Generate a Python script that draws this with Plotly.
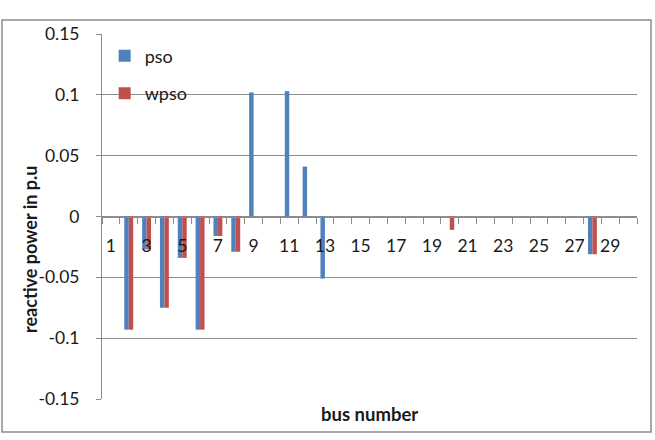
import plotly.graph_objects as go

buses = list(range(1, 31))
pso = [0, -0.093, -0.027, -0.075, -0.034, -0.093, -0.016, -0.029, 0.102, 0,
       0.103, 0.041, -0.051, 0, 0, 0, 0, 0, 0, 0,
       0, 0, 0, 0, 0, 0, 0, -0.031, 0, 0]
wpso = [0, -0.093, -0.027, -0.075, -0.034, -0.093, -0.016, -0.029, 0, 0,
        0, 0, 0, 0, 0, 0, 0, 0, 0, -0.011,
        0, 0, 0, 0, 0, 0, 0, -0.031, 0, 0]
series_names = ["pso", "wpso"]
series_colors = ["#4F81BD", "#C0504D"]
x_tick_vals = list(range(1, 30, 2))
x_tick_text = [str(v) for v in x_tick_vals]
y_tick_vals = [-0.15, -0.1, -0.05, 0, 0.05, 0.1, 0.15]
y_tick_text = ["-0.15", "-0.1", "-0.05", "0", "0.05", "0.1", "0.15"]

FONT = "Lato"
GRID = "#8c8c8c"

fig = go.Figure()
for i, (name, vals, col) in enumerate(zip(series_names, [pso, wpso], series_colors)):
    fig.add_trace(go.Bar(x=buses, y=vals, name=name, marker_color=col,
                         marker_line_width=0, legendgroup=name, showlegend=False))
for name, col in zip(series_names, series_colors):
    # legend entry with a square swatch
    fig.add_trace(go.Scatter(x=[None], y=[None], mode="markers", name=name,
                             legendgroup=name,
                             marker=dict(symbol="square", size=12, color=col,
                                         line_width=0)))

fig.update_layout(
    width=655, height=440,
    margin=dict(l=102, r=18, t=34, b=41),
    paper_bgcolor="white", plot_bgcolor="white",
    barmode="group", bargap=0.5, bargroupgap=0,
    font=dict(family=FONT, size=17.5, color="#1a1a1a"),
    showlegend=True,
    legend=dict(x=0.005, y=0.99, xanchor="left", yanchor="top",
                bgcolor="rgba(0,0,0,0)", font=dict(size=18),
                tracegroupgap=11),
    xaxis=dict(range=[0.5, 30.5], anchor="free", position=0.5,
               showgrid=False, zeroline=False,
               showline=True, linecolor=GRID, linewidth=1,
               tickmode="array", tickvals=x_tick_vals, ticktext=x_tick_text,
               ticks="", ticklabelstandoff=13,
               tickfont=dict(size=17.5),
               minor=dict(tickvals=[b + 0.5 for b in range(0, 31)],
                          ticks="outside", ticklen=6, tickcolor=GRID,
                          tickwidth=1, showgrid=False)),
    yaxis=dict(range=[-0.15, 0.15], tickmode="array", tickvals=y_tick_vals,
               ticktext=y_tick_text, showgrid=True, gridcolor=GRID, gridwidth=1,
               zeroline=False, showline=True, linecolor=GRID, linewidth=1,
               ticks="outside", ticklen=5, tickcolor=GRID,
               ticklabelstandoff=13, tickfont=dict(size=17.5)),
    annotations=[
        dict(text="<b>bus number</b>", xref="paper", yref="paper",
             x=0.5, y=(399 - 414) / 365, xanchor="center", yanchor="middle",
             showarrow=False, font=dict(size=18.5, family=FONT)),
        dict(text="<b>reactive power in p.u</b>", xref="paper", yref="paper",
             x=(30 - 102) / 535, y=(399 - 250) / 365, xanchor="center",
             yanchor="middle", textangle=-90, showarrow=False,
             font=dict(size=18, family=FONT)),
    ],
    shapes=[
        dict(type="rect", xref="paper", yref="paper",
             x0=(2 - 102) / 535, x1=(651 - 102) / 535,
             y0=(399 - 432) / 365, y1=(399 - 20) / 365,
             line=dict(color=GRID, width=1.5), fillcolor="rgba(0,0,0,0)"),
    ],
)

fig.write_html("out.html")
